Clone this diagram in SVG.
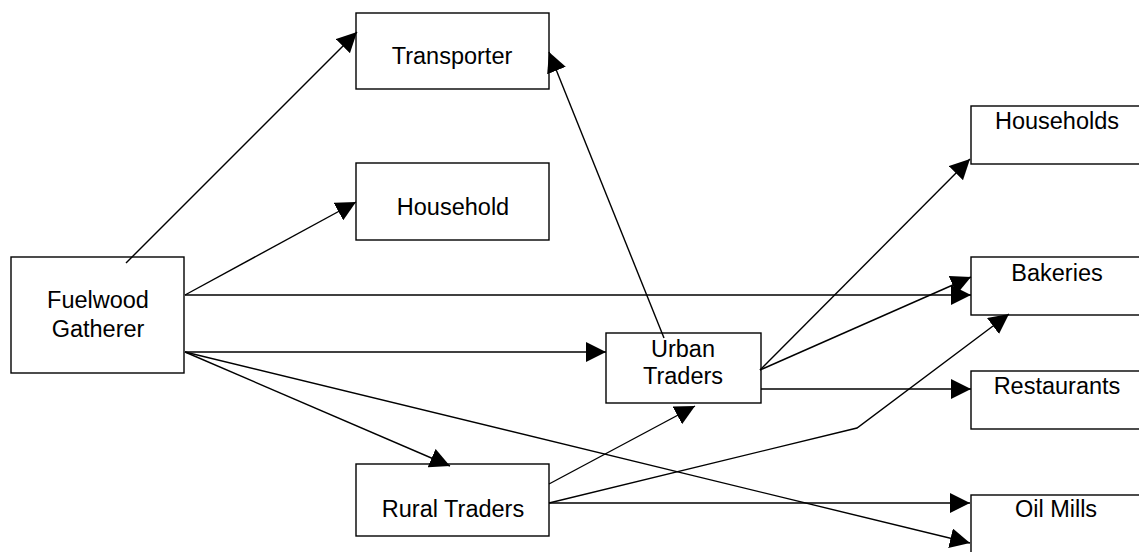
<svg xmlns="http://www.w3.org/2000/svg" width="1139" height="552" viewBox="0 0 1139 552">
<style>
.box{fill:#fff;stroke:#000;stroke-width:1.4}
.lbl{font-family:"Liberation Sans",Arial,sans-serif;font-size:23.5px;fill:#000;text-anchor:middle}
.c{fill:none;stroke:#000;stroke-width:1.4;marker-end:url(#ah)}
</style>
<defs>
<marker id="ah" markerUnits="userSpaceOnUse" markerWidth="20" markerHeight="20" refX="20" refY="10" orient="auto" viewBox="0 0 20 20">
<path d="M0,0 L20,10 L0,20 z" fill="#000"/>
</marker>
</defs>
<rect width="1139" height="552" fill="#fff"/>
<g id="fuelwood"><rect class="box" x="11" y="257" width="173" height="116"/><text class="lbl" x="98" y="308">Fuelwood</text><text class="lbl" x="98" y="337">Gatherer</text></g>
<g id="transporter"><rect class="box" x="356" y="13" width="193" height="76"/><text class="lbl" x="452" y="64">Transporter</text></g>
<g id="household"><rect class="box" x="356" y="163" width="193" height="77"/><text class="lbl" x="453" y="215">Household</text></g>
<g id="urban"><rect class="box" x="606" y="333" width="155" height="70"/><text class="lbl" x="683" y="357">Urban</text><text class="lbl" x="683" y="384">Traders</text></g>
<g id="rural"><rect class="box" x="356" y="464" width="193" height="72"/><text class="lbl" x="453" y="517">Rural Traders</text></g>
<g id="households"><rect class="box" x="971" y="106" width="172" height="58"/><text class="lbl" x="1057" y="129">Households</text></g>
<g id="bakeries"><rect class="box" x="971" y="257" width="172" height="58"/><text class="lbl" x="1057" y="281">Bakeries</text></g>
<g id="restaurants"><rect class="box" x="971" y="371" width="172" height="58"/><text class="lbl" x="1057" y="394">Restaurants</text></g>
<g id="oilmills"><rect class="box" x="971" y="495" width="172" height="58"/><text class="lbl" x="1056" y="517">Oil Mills</text></g>
<g id="connectors">
<line class="c" x1="126" y1="263" x2="357" y2="32"/>
<line class="c" x1="185" y1="295" x2="356" y2="202"/>
<line class="c" x1="185" y1="295" x2="971" y2="295"/>
<line class="c" x1="185" y1="352" x2="606" y2="352"/>
<line class="c" x1="185" y1="352" x2="450" y2="466"/>
<line class="c" x1="185" y1="352" x2="970" y2="543"/>
<line class="c" x1="664" y1="338" x2="549" y2="52"/>
<line class="c" x1="760" y1="370" x2="970" y2="159"/>
<line class="c" x1="760" y1="370" x2="971" y2="277"/>
<line class="c" x1="761" y1="389" x2="971" y2="389"/>
<line class="c" x1="549" y1="484" x2="695" y2="406"/>
<line class="c" x1="549" y1="503" x2="970" y2="503"/>
<polyline class="c" points="549,503 857,428 1009,314"/>
</g>
</svg>
